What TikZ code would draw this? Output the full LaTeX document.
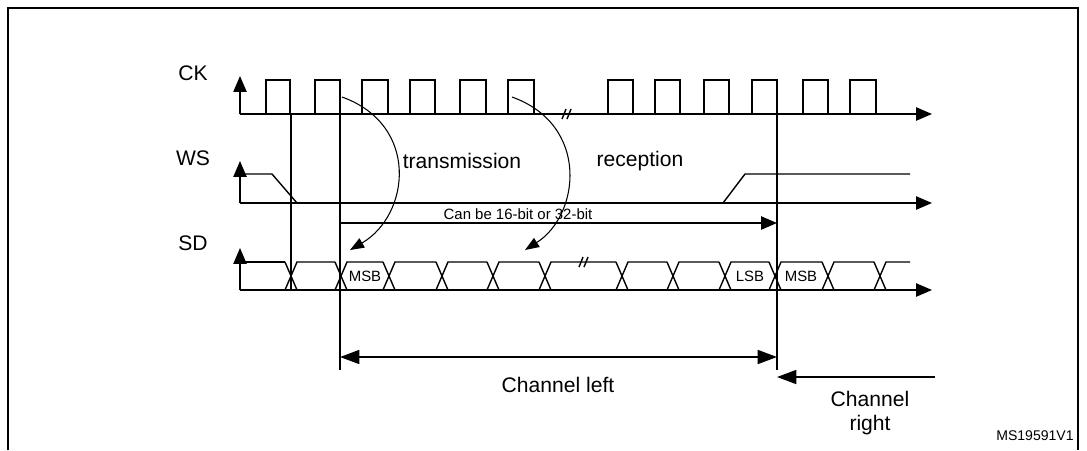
\documentclass[tikz,border=0pt]{standalone}
\usepackage{fontspec}
\setmainfont{Liberation Sans}
\usetikzlibrary{arrows.meta}
\tikzset{
  sig/.style={line width=0.8pt},
  axis/.style={line width=0.8pt,-{Triangle[length=9pt,width=7.5pt]}},
  lbl/.style={font=\fontsize{12}{14}\selectfont},
  small/.style={font=\fontsize{8.5}{10}\selectfont}
}
\begin{document}
\begin{tikzpicture}[x=0.02cm,y=-0.02cm]
	\useasboundingbox (0,0) rectangle (1087,450);
	\draw[line width=0.6pt] (8,450) -- (8,8) -- (1078,8) -- (1078,450) ; % frame
	% CK
	\draw[axis] (240,114) -- (240,76) ;
	\draw[axis] (240,114) -- (932,114) ;
	\foreach \a/\b in {266/290,315/340,362/388,410/435,460/486,508/534,608/633,655/680,704/729,752/777,803/828,850/876}
		\draw[sig] (\a,114) -- (\a,80) -- (\b,80) -- (\b,114) ;
	\draw[sig] (562,119) -- (566,109) (567,119) -- (571,109) ; % break
	\node[lbl] (ck) at (193,73) {CK};
	% WS
	\draw[axis] (240,203) -- (240,161) ;
	\draw[axis] (240,203) -- (932,203) ;
	\draw[sig] (240,174) -- (272,174) -- (297,203) ;
	\draw[sig] (723,203) -- (745,174) -- (910,174) ;
	\node[lbl] (ws) at (193,158) {WS};
	% SD
	\draw[axis] (240,290) -- (240,248) ;
	\draw[axis] (240,290) -- (932,290) ;
	\draw[sig] (240,262) -- (285,262) ;
	\foreach \a/\b in {291/341,341/389,389/442,442/493,493/545,545/622,622/673,673/725,725/775,775/828,828/880}
		\draw[sig] (\a-6,290) -- (\a+6,262) -- (\b-6,262) (\a-6,262) -- (\a+6,290) -- (\b-6,290) ;
	\draw[sig] (874,262) -- (886,290) (874,290) -- (886,262) -- (910,262) ;
	\draw[sig] (579,267) -- (583,257) (584,267) -- (588,257) ; % break
	\node[lbl] (sd) at (193,243) {SD};
	\node[small,fill=white,inner sep=1pt] (msb1) at (365,276) {MSB};
	\node[small,fill=white,inner sep=1pt] (lsb) at (750,276) {LSB};
	\node[small,fill=white,inner sep=1pt] (msb2) at (801,276) {MSB};
	% markers
	\draw[sig] (291,114) -- (291,290) ;
	\draw[sig] (340,80) -- (340,370) ;
	\draw[sig] (777,80) -- (777,370) ;
	\draw[axis] (340,223) -- (777,223) ;
	\node[small] (width) at (518,214) {Can be 16-bit or 32-bit};
	\draw[line width=0.6pt,-{Triangle[length=8pt,width=6pt]}] (342,97) .. controls (420,125) and (410,215) .. (350,250) ;
	\draw[line width=0.6pt,-{Triangle[length=8pt,width=6pt]}] (512,97) .. controls (590,125) and (580,215) .. (525,250) ;
	\node[lbl] (tx) at (462,161) {transmission};
	\node[lbl] (rx) at (640,161) {reception};
	% channels
	\draw[line width=0.8pt,{Triangle[length=11pt,width=8pt]}-{Triangle[length=11pt,width=8pt]}] (340,357) -- (777,357) ;
	\node[lbl] (cl) at (558,385) {Channel left};
	\draw[line width=0.8pt,-{Triangle[length=11pt,width=8pt]}] (935,377) -- (777,377) ;
	\node[lbl,align=center] (cr) at (870,413) {Channel\\right};
	\node[font=\fontsize{8}{9}\selectfont] (id) at (1035,436) {MS19591V1};
\end{tikzpicture}
\end{document}
